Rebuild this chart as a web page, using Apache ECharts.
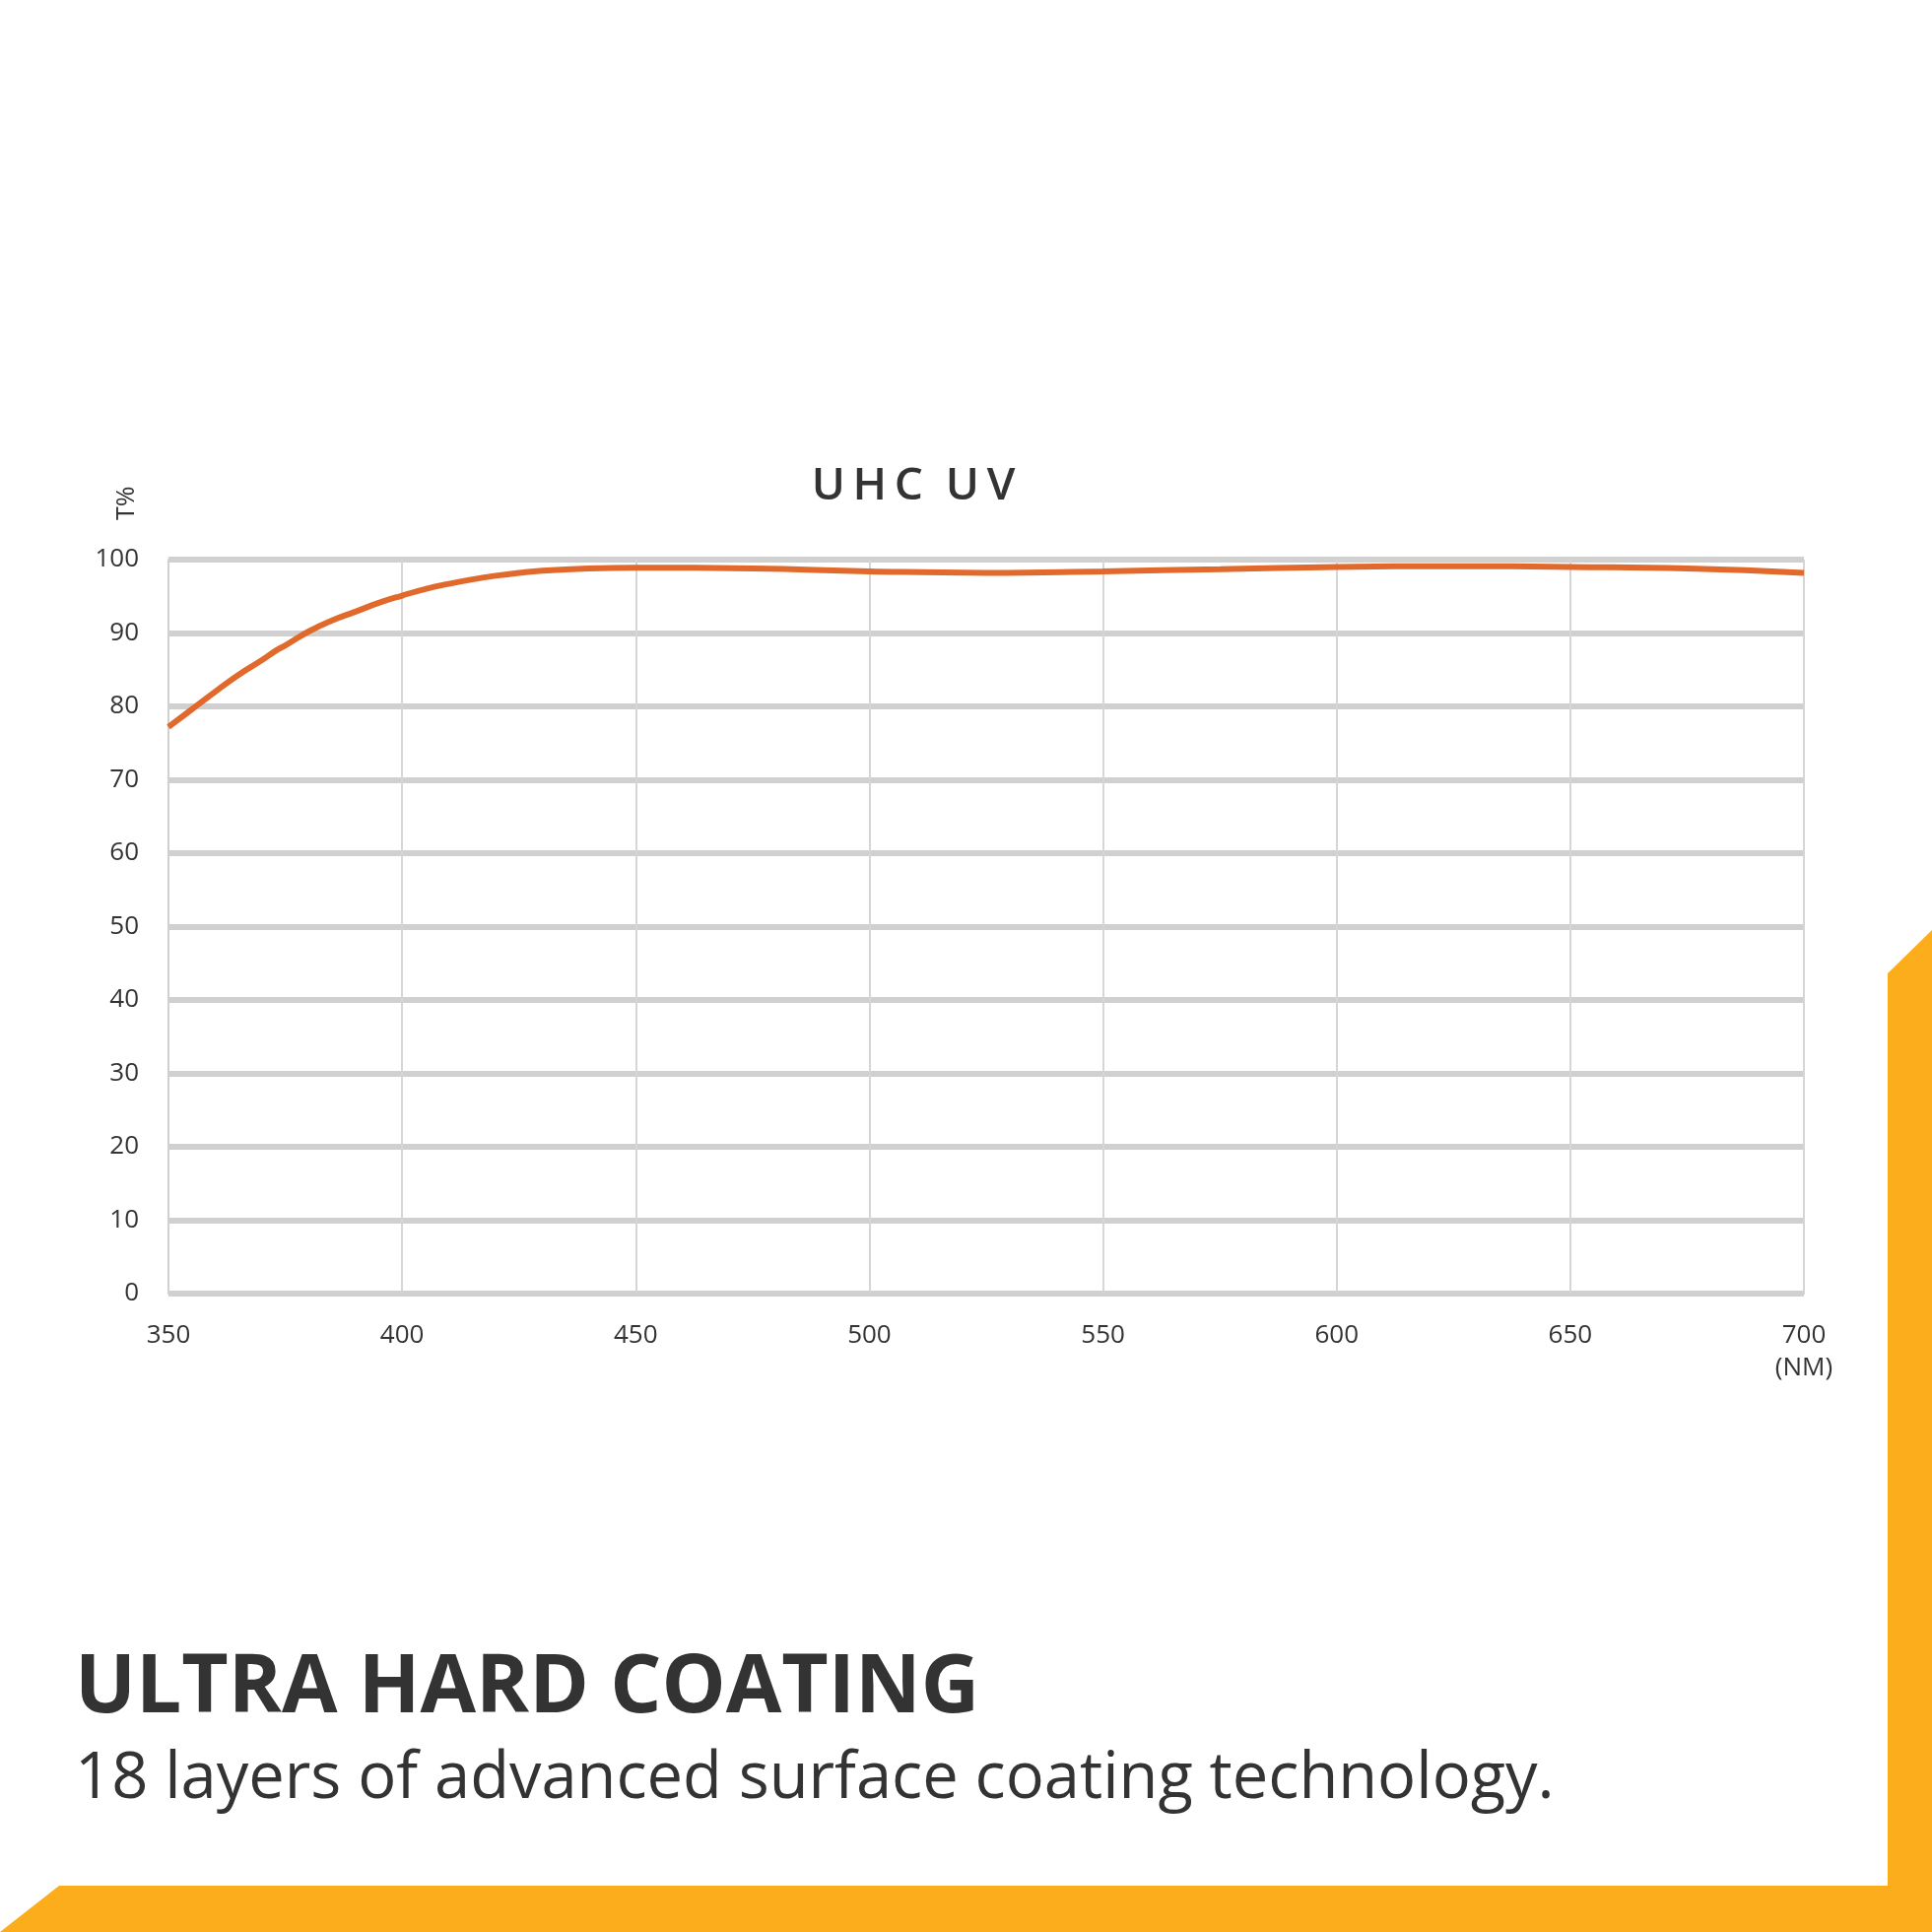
<!DOCTYPE html>
<html><head><meta charset="utf-8">
<script src="https://cdn.jsdelivr.net/npm/echarts@6/dist/echarts.min.js"></script>
<style>html,body{margin:0;padding:0;background:#fff}#c{width:1961px;height:1961px}</style>
</head><body><div id="c"></div>
<script>
const wavelengths = [350,355,360,365,370,373,375,380,385,390,395,400,405,410,415,420,425,430,440,450,475,500,525,550,575,600,625,650,675,700];
const transmission = [77.2,79.6,82,84.3,86.3,87.6,88.3,90.2,91.7,92.9,94.1,95.1,96,96.7,97.3,97.8,98.2,98.5,98.8,98.9,98.8,98.4,98.2,98.4,98.7,99,99.1,99,98.8,98.2];
const xTicks = [350,400,450,500,550,600,650,700];
const yTicks = [0,10,20,30,40,50,60,70,80,90,100];
const chart = echarts.init(document.getElementById('c'));
const F = '"Open Sans", "Noto Sans", sans-serif';
chart.setOption({
  animation:false,
  grid:{left:171,right:130,top:568,bottom:648},
  xAxis:{type:'value',min:350,max:700,interval:50,
    axisLine:{show:true,lineStyle:{color:'#d0d0d0',width:2}},axisTick:{show:false},
    splitLine:{show:true,lineStyle:{color:'#d6d6d6',width:2}},
    axisLabel:{margin:26,color:'#333',fontSize:26,fontFamily:F,lineHeight:33,
      formatter:v=>xTicks.includes(v)?(v===700?'700\n(NM)':String(v)):''}},
  yAxis:{type:'value',min:0,max:100,interval:10,
    axisLine:{show:true,lineStyle:{color:'#d0d0d0',width:2}},axisTick:{show:false},
    splitLine:{show:true,lineStyle:{color:'#d0d0d0',width:6}},
    axisLabel:{margin:30,color:'#333',fontSize:26,fontFamily:F,formatter:v=>yTicks.includes(v)?String(v):''}},
  series:[{type:'line',data:wavelengths.map((w,i)=>[w,transmission[i]]),smooth:true,showSymbol:false,
    lineStyle:{color:'#e2692c',width:6}}],
  graphic:[
    {type:'text',x:927,y:494,style:{text:'U\u2009H\u2009C\u2002U\u2009V',font:'600 46px '+F,fill:'#333',textAlign:'center',textVerticalAlign:'middle'}},
    {type:'text',x:116,y:528,rotation:Math.PI/2,style:{text:'T%',font:'25px '+F,fill:'#333'}},
    {type:'text',x:76,y:1674,style:{text:'ULTRA HARD COATING',font:'bold 82px "Open Sans", sans-serif',fill:'#333'}},
    {type:'text',x:76,y:1774,style:{text:'18 layers of advanced surface coating technology.',font:'65px "Open Sans", sans-serif',fill:'#333'}},
    {type:'polygon',shape:{points:[[1916,988],[1961,944],[1961,1961],[1916,1961]]},style:{fill:'#fbad1b'}},
    {type:'polygon',shape:{points:[[60,1914],[1961,1914],[1961,1961],[0,1961]]},style:{fill:'#fbad1b'}}
  ]
});
</script></body></html>
